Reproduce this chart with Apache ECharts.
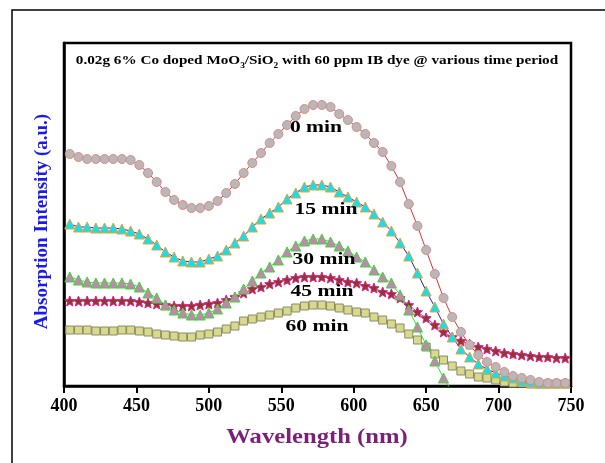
<!DOCTYPE html>
<html>
<head>
<meta charset="utf-8">
<script src="https://cdn.jsdelivr.net/npm/echarts@6/dist/echarts.min.js"></script>
<style>
  html, body { margin: 0; padding: 0; background: #fff; }
  #chart { width: 605px; height: 463px; }
</style>
</head>
<body>
<div id="chart"></div>
<script>
var wavelength = [404, 410, 416, 422, 428, 434, 440, 446, 452, 458, 464, 470, 476, 482, 488, 494, 500, 506, 512, 518,
    524, 530, 536, 542, 548, 554, 560, 566, 572, 578, 584, 590, 596, 602, 608, 614, 620, 626, 632, 638,
    644, 650, 656, 662, 668, 674, 680, 686, 692, 698, 704, 710, 716, 722, 728, 734, 740, 746];

var min0 = [2.32, 2.29, 2.27, 2.27, 2.27, 2.27, 2.27, 2.26, 2.21, 2.13, 2.04, 1.94, 1.86, 1.81, 1.78, 1.78, 1.80, 1.85, 1.93, 2.02,
    2.13, 2.23, 2.33, 2.43, 2.52, 2.61, 2.70, 2.77, 2.81, 2.81, 2.79, 2.72, 2.66, 2.59, 2.52, 2.43, 2.34, 2.20, 2.04, 1.82,
    1.60, 1.36, 1.12, 0.88, 0.69, 0.54, 0.41, 0.31, 0.24, 0.19, 0.14, 0.10, 0.08, 0.06, 0.04, 0.03, 0.03, 0.03];

var min15 = [1.62, 1.59, 1.59, 1.58, 1.58, 1.58, 1.57, 1.55, 1.52, 1.47, 1.41, 1.34, 1.29, 1.25, 1.24, 1.24, 1.27, 1.30, 1.36, 1.43,
    1.50, 1.59, 1.67, 1.73, 1.79, 1.87, 1.93, 1.99, 2.01, 2.01, 1.99, 1.94, 1.89, 1.84, 1.79, 1.72, 1.64, 1.55, 1.43, 1.30,
    1.13, 0.95, 0.79, 0.62, 0.49, 0.37, 0.29, 0.22, 0.17, 0.13, 0.10, 0.08, 0.05, 0.04, 0.03, 0.03, 0.03, 0.03];

var min30 = [1.09, 1.06, 1.04, 1.03, 1.03, 1.03, 1.03, 1.02, 0.99, 0.93, 0.88, 0.81, 0.76, 0.73, 0.71, 0.71, 0.73, 0.77, 0.83, 0.89,
    0.97, 1.05, 1.13, 1.19, 1.26, 1.34, 1.40, 1.45, 1.47, 1.47, 1.44, 1.40, 1.35, 1.29, 1.24, 1.16, 1.09, 1.03, 0.91, 0.76,
    0.59, 0.41, 0.25, 0.08, -0.06];

var min45 = [0.85, 0.85, 0.85, 0.85, 0.85, 0.85, 0.85, 0.85, 0.84, 0.83, 0.82, 0.81, 0.80, 0.80, 0.80, 0.81, 0.82, 0.83, 0.86, 0.89,
    0.93, 0.97, 0.99, 1.02, 1.04, 1.06, 1.08, 1.09, 1.09, 1.09, 1.08, 1.06, 1.04, 1.03, 1.00, 0.98, 0.94, 0.92, 0.88, 0.81,
    0.74, 0.68, 0.61, 0.54, 0.49, 0.45, 0.42, 0.39, 0.37, 0.35, 0.33, 0.32, 0.31, 0.30, 0.29, 0.29, 0.28, 0.28];

var min60 = [0.56, 0.56, 0.56, 0.55, 0.55, 0.55, 0.56, 0.56, 0.55, 0.54, 0.52, 0.51, 0.50, 0.49, 0.49, 0.51, 0.52, 0.54, 0.57, 0.60,
    0.65, 0.67, 0.69, 0.71, 0.73, 0.75, 0.78, 0.80, 0.81, 0.81, 0.80, 0.78, 0.76, 0.74, 0.73, 0.69, 0.66, 0.62, 0.58, 0.52,
    0.46, 0.39, 0.32, 0.26, 0.20, 0.15, 0.12, 0.09, 0.08, 0.06, 0.04, 0.03, 0.03, 0.02, 0.02, 0.02, 0.02, 0.02];

var xTicks = [400, 450, 500, 550, 600, 650, 700, 750];

var serif = "'Times New Roman', 'Liberation Serif', serif";
var star = 'path://M10,0L12.65,6.36L19.51,6.91L14.28,11.39L15.88,18.09L10,14.5L4.12,18.09L5.72,11.39L0.49,6.91L7.35,6.36Z';

function pairs(ys) {
    return ys.map(function (y, i) { return [wavelength[i], y]; });
}

function makeSeries(name, ys, symbol, size, fill, edge, line) {
    return {
        name: name,
        type: 'line',
        data: pairs(ys),
        symbol: symbol,
        symbolSize: size,
        showAllSymbol: true,
        lineStyle: { color: line, width: 1 },
        itemStyle: { color: fill, borderColor: edge, borderWidth: 1 },
        emphasis: { disabled: true },
        z: 3
    };
}

// 曲线旁边的时间标注
function curveLabel(text, x, y) {
    return {
        type: 'text', x: x, y: y, scaleX: 1.27, z: 10, silent: true,
        style: { text: text, font: 'bold 17px ' + serif, fill: '#000', align: 'center', verticalAlign: 'middle' }
    };
}

var chart = echarts.init(document.getElementById('chart'));

var option = {
    animation: false,
    backgroundColor: '#fff',
    grid: {
        left: 64,
        right: 34,
        top: 43,
        bottom: 77,
        show: true,
        borderColor: '#000',
        borderWidth: 2.5
    },
    xAxis: {
        type: 'value',
        min: 400,
        max: 750,
        interval: 50,
        axisLine: { lineStyle: { color: '#000', width: 2.5 } },
        axisTick: { inside: false, length: 7, lineStyle: { color: '#000', width: 2 } },
        axisLabel: {
            fontFamily: serif, fontWeight: 'bold', fontSize: 18, color: '#000', margin: 11,
            formatter: function (v) { return xTicks.indexOf(v) >= 0 ? String(v) : ''; }
        },
        splitLine: { show: false }
    },
    yAxis: {
        type: 'value',
        min: 0,
        max: 3.43,
        name: 'Absorption Intensity (a.u.)',
        nameLocation: 'middle',
        nameGap: 12,
        nameTextStyle: { fontFamily: serif, fontWeight: 'bold', fontSize: 19, color: '#1a1aee', padding: [0, 14, 0, 0] },
        axisLine: { lineStyle: { color: '#000', width: 2.5 } },
        axisTick: { show: false },
        axisLabel: { show: false },
        splitLine: { show: false }
    },
    graphic: [
        { type: 'rect', shape: { x: 12, y: 10, width: 700, height: 600 }, style: { fill: 'none', stroke: '#000', lineWidth: 1.5 }, silent: true },
        {
            type: 'text', x: 317, y: 61, scaleX: 1.17, z: 10, silent: true,
            style: {
                text: '0.02g 6% Co doped MoO{sub|3}/SiO{sub|2} with 60 ppm IB dye @ various time period',
                font: 'bold 13px ' + serif, fill: '#000', align: 'center', verticalAlign: 'middle',
                rich: { sub: { font: 'bold 8px ' + serif, fill: '#000', padding: [9, 0, 0, 0] } }
            }
        },
        {
            type: 'text', x: 317, y: 437, scaleX: 1.12, silent: true,
            style: { text: 'Wavelength (nm)', font: 'bold 22px ' + serif, fill: '#7a1f7a', align: 'center', verticalAlign: 'middle' }
        },
        curveLabel('0 min', 316, 128),
        curveLabel('15 min', 326, 210),
        curveLabel('30 min', 324, 260),
        curveLabel('45 min', 322, 292),
        curveLabel('60 min', 317, 327)
    ],
    series: [
        makeSeries('60 min', min60, 'rect', 8, '#d9d98c', '#8a8a6a', '#333333'),
        makeSeries('45 min', min45, star, 10, '#8b3a2e', '#e0208a', '#d83c8c'),
        makeSeries('30 min', min30, 'triangle', 10, '#c882b4', '#33dd33', '#33dd33'),
        makeSeries('15 min', min15, 'triangle', 10, '#11e0ee', '#f0a030', '#2222cc'),
        makeSeries('0 min', min0, 'circle', 9, '#b8b8b8', '#e08888', '#e03030')
    ]
};

chart.setOption(option);
</script>
</body>
</html>
